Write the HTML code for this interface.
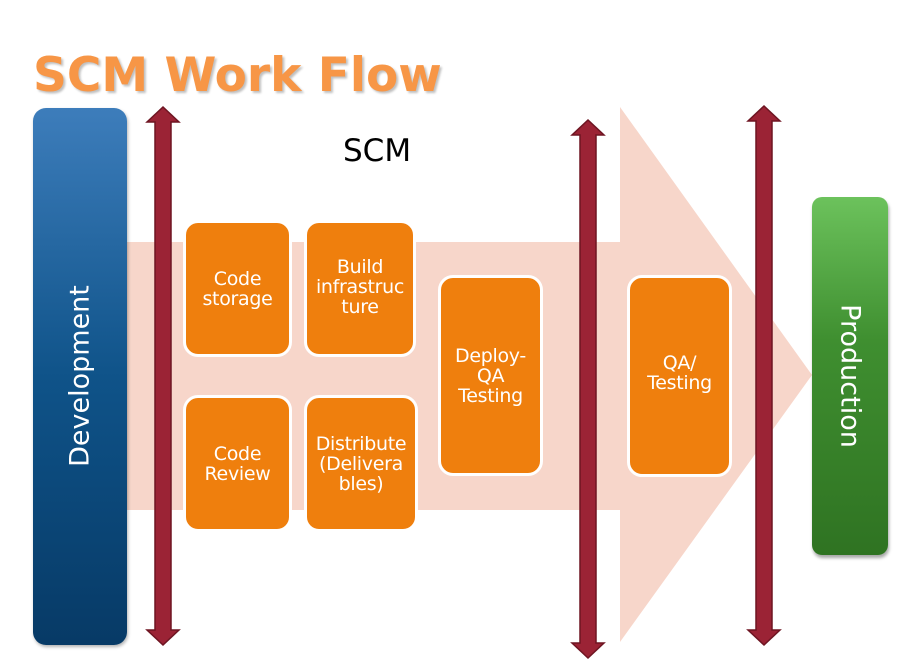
<!DOCTYPE html>
<html><head><meta charset="utf-8"><style>
body{margin:0;width:897px;height:660px;background:#fff;position:relative;overflow:hidden;font-family:"DejaVu Sans","Liberation Sans",sans-serif}
.t{position:absolute;left:33px;top:48px;font-size:47px;font-weight:bold;color:#f79646;text-shadow:2px 2px 2px rgba(0,0,0,.25);letter-spacing:0px}
.scm{position:absolute;left:343px;top:133px;font-size:31px;color:#000}
.box{position:absolute;background:#ef7f0d;border:3px solid #fff;border-radius:15px;color:#fff;font-size:19px;line-height:20px;display:flex;align-items:center;justify-content:center;text-align:center;box-sizing:border-box;letter-spacing:-0.3px}
.dev{position:absolute;left:33px;top:108px;width:94px;height:537px;border-radius:13px;background:linear-gradient(#3d7dbb,#0f5389 50%,#073a66);box-shadow:1px 2px 3px rgba(0,0,0,.3)}
.prod{position:absolute;left:812px;top:197px;width:76px;height:358px;border-radius:10px;background:linear-gradient(#6cc25c,#3f8f30 40%,#2f7322);box-shadow:1px 3px 3px rgba(0,0,0,.35)}
.vt{position:absolute;color:#fff;font-size:27px;white-space:nowrap}
</style></head><body>
<svg width="897" height="660" style="position:absolute;left:0;top:0">
<polygon points="125,242 620,242 620,107 812,375 620,642 620,510 125,510" fill="#f7d6ca"/>
<g fill="#9b2335" stroke="#6e1522" stroke-width="1.5">
<polygon points="155,122 147,122 163,107 179,122 171,122 171,630 179,630 163,645 147,630 155,630"/>
<polygon points="580,135 572,135 588,120 604,135 596,135 596,643 604,643 588,658 572,643 580,643"/>
<polygon points="756,121 748,121 764,106 780,121 772,121 772,630 780,630 764,645 748,630 756,630"/>
</g>
</svg>
<div class="t">SCM Work Flow</div>
<div class="scm">SCM</div>
<div class="dev"></div>
<div class="vt" style="left:80px;top:376px;transform:translate(-50%,-50%) rotate(-90deg)">Development</div>
<div class="prod"></div>
<div class="vt" style="left:850px;top:376px;transform:translate(-50%,-50%) rotate(90deg)">Production</div>
<div class="box" style="left:183px;top:220px;width:109px;height:137px">Code<br>storage</div>
<div class="box" style="left:304px;top:220px;width:112px;height:137px;padding-bottom:4px">Build<br>infrastruc<br>ture</div>
<div class="box" style="left:183px;top:395px;width:109px;height:137px">Code<br>Review</div>
<div class="box" style="left:304px;top:395px;width:114px;height:137px">Distribute<br>(Delivera<br>bles)</div>
<div class="box" style="left:438px;top:275px;width:105px;height:201px">Deploy-<br>QA<br>Testing</div>
<div class="box" style="left:627px;top:275px;width:105px;height:202px;padding-bottom:6px">QA/<br>Testing</div>
</body></html>
